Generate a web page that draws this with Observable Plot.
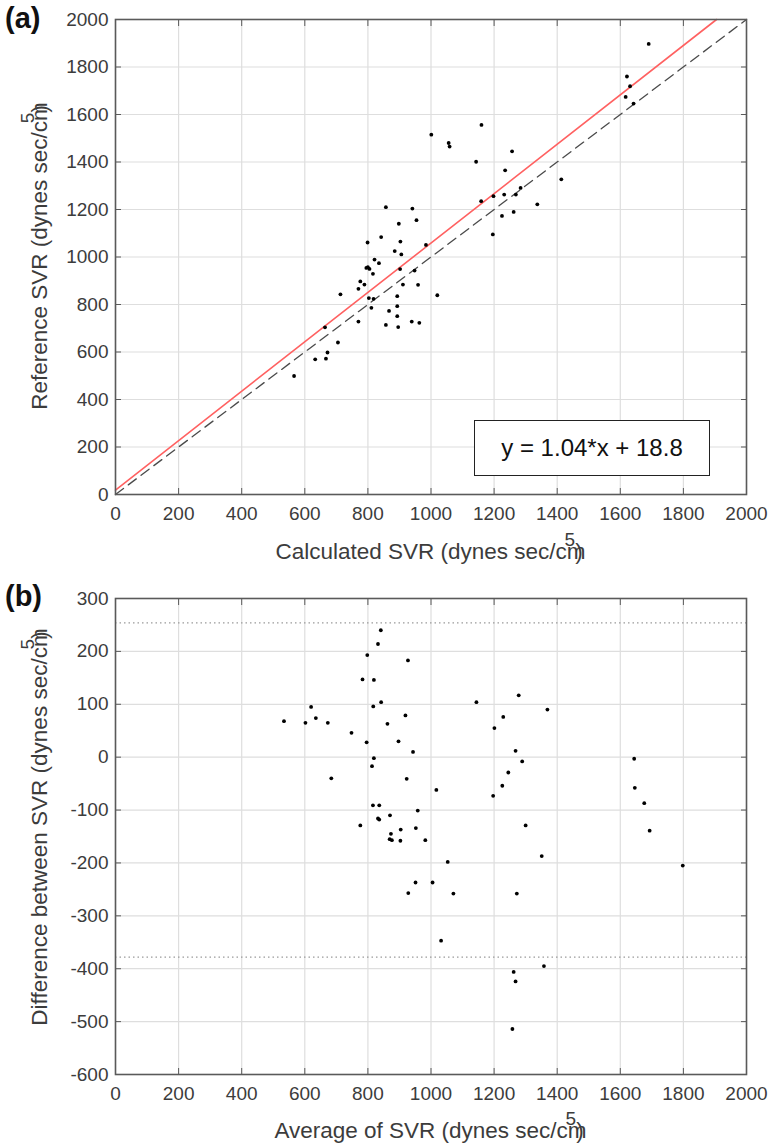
<!DOCTYPE html>
<html><head><meta charset="utf-8">
<script src="https://cdn.jsdelivr.net/npm/d3@7"></script>
<script src="https://cdn.jsdelivr.net/npm/@observablehq/plot@0.6"></script>
<style>
body{margin:0;background:#fff;}
#wrap{position:relative;width:773px;height:1145px;font-family:"Liberation Sans",Arial,sans-serif;}
.tag{position:absolute;left:5px;font-size:29px;font-weight:bold;color:#111;line-height:1;}
#legend{position:absolute;left:474px;top:420px;width:236px;height:56px;border:1.5px solid #222;box-sizing:border-box;display:flex;align-items:center;justify-content:center;font-size:24px;color:#111;background:#fff;}
svg{position:absolute;left:0;}
</style></head><body><div id="wrap"></div>
<script>
// ---- data ----
const calcSVR = [1690,1621,1631,1617,1642,1413,1235,1159,1198,1232,1269,1284,1337,1262,1225,1196,
  857,941,954,898,842,799,903,885,906,984,821,835,795,800,805,816,902,948,776,770,789,911,959,1020,
  803,818,713,811,893,893,867,893,770,857,896,939,963,566,633,667,672,705,664,1001,1059,1056,1160,1257,1143];
const refSVR  = [1897,1760,1719,1674,1646,1327,1365,1235,1256,1263,1263,1291,1222,1190,1173,1095,
  1210,1204,1155,1140,1084,1061,1065,1025,1011,1051,989,974,954,957,950,929,949,943,897,866,884,884,883,839,
  827,824,843,786,835,793,773,751,728,714,705,728,723,499,569,572,598,640,704,1515,1465,1480,1556,1445,1401];
const avgSVR  = [841,832,798,927,783,819,817,842,919,862,748,796,897,943,819,813,1144,1278,1369,1229,1201,1268,1289,
  923,1017,1197,1226,1245,816,836,958,870,832,836,776,1300,904,952,873,869,876,903,982,1053,1351,951,1005,928,1071,1272,1032,1358,1262,1268,1258,
  534,602,620,635,673,684,1644,1646,1676,1693,1798];
const diffSVR = [240,214,193,183,147,146,96,104,79,63,46,28,30,10,-2,-17,104,117,90,76,55,12,-8,
  -41,-62,-73,-54,-29,-91,-91,-101,-110,-116,-118,-129,-129,-137,-134,-145,-155,-157,-158,-157,-198,-187,-237,-237,-257,-258,-258,-347,-395,-406,-424,-514,
  68,65,95,74,65,-40,-3,-58,-87,-139,-205];
const xTicks  = [0,200,400,600,800,1000,1200,1400,1600,1800,2000];
const yTicksA = [0,200,400,600,800,1000,1200,1400,1600,1800,2000];
const yTicksB = [-600,-500,-400,-300,-200,-100,0,100,200,300];
const fitSlope = 1.04, fitIntercept = 18.8;
const limitsB = [254,-378];
const titleX_A = "Calculated SVR (dynes sec/cm";
const titleY_A = "Reference SVR (dynes sec/cm";
const titleX_B = "Average of SVR (dynes sec/cm";
const titleY_B = "Difference between SVR (dynes sec/cm";

// ---- helpers ----
const FONT = "'Liberation Sans', Arial, sans-serif";
const TXT = "#3c3c3c", GRID = "#dedede", FRAME = "#5a5a5a";
const fmt = d => String(d);
const base = {width:773, marginLeft:115, marginRight:27,
  style:{fontFamily:FONT, fontSize:"19px", color:TXT, background:"transparent", overflow:"visible"}};
function boxAxes(yTicks){
  return [
    Plot.axisX(xTicks,{anchor:"bottom", tickSize:0, tickPadding:12, tickFormat:fmt, label:null, fill:TXT}),
    Plot.axisY(yTicks,{anchor:"left", tickSize:0, tickPadding:7, tickFormat:fmt, label:null, fill:TXT}),
    Plot.axisX(xTicks,{anchor:"bottom", tickSize:-6, tickFormat:()=>"", label:null, stroke:FRAME}),
    Plot.axisX(xTicks,{anchor:"top", tickSize:-6, tickFormat:()=>"", label:null, stroke:FRAME}),
    Plot.axisY(yTicks,{anchor:"left", tickSize:-6, tickFormat:()=>"", label:null, stroke:FRAME}),
    Plot.axisY(yTicks,{anchor:"right", tickSize:-6, tickFormat:()=>"", label:null, stroke:FRAME}),
    Plot.frame({stroke:FRAME, strokeWidth:1.6})
  ];
}
function addTitle(svg, x, y, rot, text){
  const t = d3.select(svg).append("text")
    .attr("x",x).attr("y",y).attr("text-anchor","middle")
    .attr("font-family",FONT).attr("font-size",22.5).attr("fill",TXT);
  if (rot) t.attr("transform",`rotate(-90,${x},${y})`);
  t.append("tspan").text(text);
  t.append("tspan").attr("dx",-21).attr("dy",-13).attr("font-size",19).text("5");
  t.append("tspan").attr("dx",0).attr("dy",13).text(")");
}

// ---- panel (a) ----
const ptsA = calcSVR.map((x,i)=>({x, y:refSVR[i]}));
const fitLine = [{x:0, y:fitIntercept},{x:(2000-fitIntercept)/fitSlope, y:2000}];
const idLine = [{x:0,y:0},{x:2000,y:2000}];
const plotA = Plot.plot({...base, height:570, marginTop:19, marginBottom:76,
  x:{domain:[0,2000]}, y:{domain:[0,2000]},
  marks:[
    Plot.gridX(xTicks,{stroke:GRID, strokeOpacity:1, strokeWidth:1.2}),
    Plot.gridY(yTicksA,{stroke:GRID, strokeOpacity:1, strokeWidth:1.2}),
    Plot.line(idLine,{x:"x", y:"y", stroke:"#4a4a4a", strokeWidth:1.3, strokeDasharray:"10,6"}),
    Plot.line(fitLine,{x:"x", y:"y", stroke:"#ff6161", strokeWidth:1.6}),
    Plot.dot(ptsA,{x:"x", y:"y", r:1.9, fill:"#000", stroke:null}),
    ...boxAxes(yTicksA)
  ]});
plotA.style.top = "0px";

// ---- panel (b) ----
const ptsB = avgSVR.map((x,i)=>({x, y:diffSVR[i]}));
const plotB = Plot.plot({...base, height:575, marginTop:28, marginBottom:71,
  x:{domain:[0,2000]}, y:{domain:[-600,300]},
  marks:[
    Plot.gridX(xTicks,{stroke:GRID, strokeOpacity:1, strokeWidth:1.2}),
    Plot.gridY(yTicksB,{stroke:GRID, strokeOpacity:1, strokeWidth:1.2}),
    Plot.ruleY(limitsB,{stroke:"#9a9a9a", strokeWidth:1.2, strokeDasharray:"1.5,3"}),
    Plot.dot(ptsB,{x:"x", y:"y", r:1.9, fill:"#000", stroke:null}),
    ...boxAxes(yTicksB)
  ]});
plotB.style.top = "570px";

const wrap = document.getElementById("wrap");
wrap.appendChild(plotA);
wrap.appendChild(plotB);
const cx = (115 + 746)/2;
addTitle(plotA, cx, 559, false, titleX_A);
addTitle(plotA, 47, 256, true, titleY_A);
addTitle(plotB, cx, 568, false, titleX_B);
addTitle(plotB, 47, 257, true, titleY_B);

const ta = document.createElement("div"); ta.className="tag"; ta.style.top="4px"; ta.textContent="(a)"; wrap.appendChild(ta);
const tb = document.createElement("div"); tb.className="tag"; tb.style.top="582px"; tb.textContent="(b)"; wrap.appendChild(tb);
const lg = document.createElement("div"); lg.id="legend"; lg.textContent = `y = ${fitSlope}*x + ${fitIntercept}`; wrap.appendChild(lg);
</script></body></html>
